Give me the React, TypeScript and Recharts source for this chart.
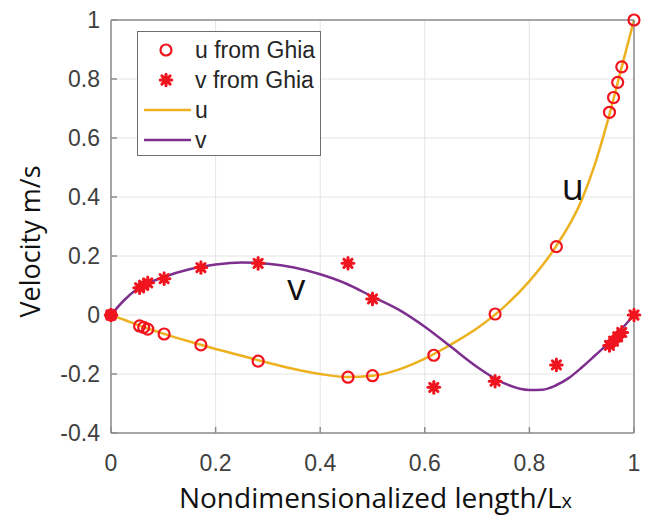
import { CartesianGrid, ComposedChart, Line, ReferenceDot, Scatter, XAxis, YAxis } from "recharts";

// Ghia et al. reference points (v is plotted against the u stations, as in the original figure)
const GHIA_X = [0, 0.0547, 0.0625, 0.0703, 0.1016, 0.1719, 0.2813, 0.4531, 0.5, 0.6172, 0.7344, 0.8516, 0.9531, 0.9609, 0.9688, 0.9766, 1];
const GHIA_U = [0, -0.03717, -0.04192, -0.04775, -0.06434, -0.1015, -0.15662, -0.2109, -0.20581, -0.13641, 0.00332, 0.23151, 0.68717, 0.73722, 0.78871, 0.84123, 1];
const GHIA_V = [0, 0.09233, 0.10091, 0.1089, 0.12317, 0.16077, 0.17507, 0.17527, 0.05454, -0.24533, -0.22445, -0.16914, -0.10313, -0.08864, -0.07391, -0.05906, 0];

// simulated profiles
const U_X = [0, 0.025, 0.05, 0.1, 0.15, 0.2, 0.25, 0.3, 0.35, 0.4, 0.45, 0.5, 0.55, 0.6, 0.65, 0.7, 0.75, 0.8, 0.85, 0.9, 0.925, 0.95, 0.975, 1];
const U_CURVE = [0, -0.016, -0.033, -0.063, -0.09, -0.115, -0.138, -0.162, -0.183, -0.2, -0.21, -0.206, -0.185, -0.148, -0.1, -0.045, 0.025, 0.115, 0.23, 0.39, 0.51, 0.66, 0.83, 1];
const V_X = [0, 0.025, 0.05, 0.1, 0.15, 0.2, 0.25, 0.3, 0.35, 0.4, 0.45, 0.5, 0.55, 0.6, 0.65, 0.7, 0.75, 0.8, 0.825, 0.85, 0.875, 0.9, 0.925, 0.95, 0.975, 1];
const V_CURVE = [0, 0.05, 0.088, 0.128, 0.155, 0.171, 0.178, 0.174, 0.161, 0.138, 0.106, 0.062, 0.018, -0.04, -0.108, -0.176, -0.23, -0.254, -0.253, -0.239, -0.214, -0.178, -0.138, -0.097, -0.05, 0];

const X_TICKS = [0, 0.2, 0.4, 0.6, 0.8, 1];
const Y_TICKS = [-0.4, -0.2, 0, 0.2, 0.4, 0.6, 0.8, 1];

const U_NOTE = { x: 0.883, y: 0.434, text: "u" };
const V_NOTE = { x: 0.354, y: 0.095, text: "v" };

const ghiaU = GHIA_X.map((x, i) => ({ x, y: GHIA_U[i] }));
const ghiaV = GHIA_X.map((x, i) => ({ x, y: GHIA_V[i] }));
const uCurve = U_X.map((x, i) => ({ x, y: U_CURVE[i] }));
const vCurve = V_X.map((x, i) => ({ x, y: V_CURVE[i] }));

const TICK_FONT = "'Liberation Sans', Arial, sans-serif";
const LABEL_FONT = "'Open Sans', sans-serif";
const FRAME = "#8c8c8c";
const RED = "#f0141e";
const U_COLOR = "#EDB120";
const V_COLOR = "#7E2F8E";

function Ring({ cx, cy }: any) {
  return <circle cx={cx} cy={cy} r={5.5} fill="none" stroke={RED} strokeWidth={2.2} />;
}

function Asterisk({ cx, cy }: any) {
  const r = 5.8;
  const d = r * 0.707;
  return (
    <g stroke={RED} strokeWidth={3} strokeLinecap="round">
      <line x1={cx - r} y1={cy} x2={cx + r} y2={cy} />
      <line x1={cx} y1={cy - r} x2={cx} y2={cy + r} />
      <line x1={cx - d} y1={cy - d} x2={cx + d} y2={cy + d} />
      <line x1={cx - d} y1={cy + d} x2={cx + d} y2={cy - d} />
      <circle cx={cx} cy={cy} r={4} fill={RED} stroke="none" />
    </g>
  );
}

function YLabel({ viewBox }: any) {
  const x = viewBox.x + 29;
  const y = viewBox.y + viewBox.height / 2 + 15;
  return (
    <text x={x} y={y} transform={`rotate(-90 ${x} ${y})`} textAnchor="middle" dominantBaseline="central"
      fontFamily={LABEL_FONT} fontSize={27} fill="#111">
      Velocity m/s
    </text>
  );
}

function XLabel({ viewBox }: any) {
  return (
    <text x={viewBox.x + viewBox.width / 2 + 3} y={viewBox.y + 75} textAnchor="middle"
      fontFamily={LABEL_FONT} fontSize={28} fill="#111">
      <tspan>Nondimensionalized length/L</tspan>
      <tspan fontSize={20}>x</tspan>
    </text>
  );
}

function LegendBox() {
  const rows = [
    { label: "u from Ghia", icon: <Ring cx={23} cy={15} /> },
    { label: "v from Ghia", icon: <Asterisk cx={23} cy={15} /> },
    { label: "u", icon: <line x1={1} y1={15} x2={48} y2={15} stroke={U_COLOR} strokeWidth={2.5} /> },
    { label: "v", icon: <line x1={1} y1={15} x2={48} y2={15} stroke={V_COLOR} strokeWidth={2.5} /> },
  ];
  return (
    <div
      style={{
        position: "absolute", left: 137, top: 31, width: 184, height: 125, boxSizing: "border-box",
        border: "1px solid #6e6e6e", background: "#fff", paddingTop: 3,
      }}
    >
      {rows.map((r) => (
        <div key={r.label} style={{ display: "flex", alignItems: "center", height: 30 }}>
          <svg width={50} height={30} style={{ marginLeft: 5, marginRight: 2, flex: "none" }}>
            {r.icon}
          </svg>
          <span style={{ fontFamily: TICK_FONT, fontSize: 23, color: "#262626", lineHeight: "30px" }}>{r.label}</span>
        </div>
      ))}
    </div>
  );
}

export default function App() {
  const tick = { fill: "#404040", fontSize: 23, fontFamily: TICK_FONT };
  return (
    <div style={{ position: "absolute", left: 0, top: 0, width: 646, height: 517, background: "#fff" }}>
      <ComposedChart width={646} height={517} margin={{ top: 0, right: 0, left: 0, bottom: 0 }}>
        <CartesianGrid stroke="#e4e4e4" strokeWidth={1} />
        <XAxis
          dataKey="x" type="number" domain={[0, 1]} ticks={X_TICKS} height={84}
          stroke={FRAME} strokeWidth={1.5} tickSize={-6} tickMargin={28} tick={tick}
          tickFormatter={(v) => String(v)} label={<XLabel />}
        />
        <XAxis
          xAxisId="top" dataKey="x" type="number" domain={[0, 1]} ticks={X_TICKS} orientation="top" height={20}
          stroke={FRAME} strokeWidth={1.5} tickSize={-6} tick={false}
        />
        <YAxis
          type="number" domain={[-0.4, 1]} ticks={Y_TICKS} width={111}
          stroke={FRAME} strokeWidth={1.5} tickSize={-6} tickMargin={17} tick={tick}
          tickFormatter={(v) => String(v)} label={<YLabel />}
        />
        <YAxis
          yAxisId="right" type="number" domain={[-0.4, 1]} ticks={Y_TICKS} orientation="right" width={12}
          stroke={FRAME} strokeWidth={1.5} tickSize={-6} tick={false}
        />
        <Scatter data={ghiaU} dataKey="y" shape={<Ring />} isAnimationActive={false} />
        <Scatter data={ghiaV} dataKey="y" shape={<Asterisk />} isAnimationActive={false} />
        <Line data={uCurve} dataKey="y" type="monotone" stroke={U_COLOR} strokeWidth={2.5} dot={false} isAnimationActive={false} />
        <Line data={vCurve} dataKey="y" type="monotone" stroke={V_COLOR} strokeWidth={2.5} dot={false} isAnimationActive={false} />
        <ReferenceDot x={U_NOTE.x} y={U_NOTE.y} r={0} fill="none" stroke="none"
          label={{ value: U_NOTE.text, position: "center", fontSize: 36, fill: "#111", fontFamily: LABEL_FONT }} />
        <ReferenceDot x={V_NOTE.x} y={V_NOTE.y} r={0} fill="none" stroke="none"
          label={{ value: V_NOTE.text, position: "center", fontSize: 36, fill: "#111", fontFamily: LABEL_FONT }} />
      </ComposedChart>
      <LegendBox />
    </div>
  );
}
